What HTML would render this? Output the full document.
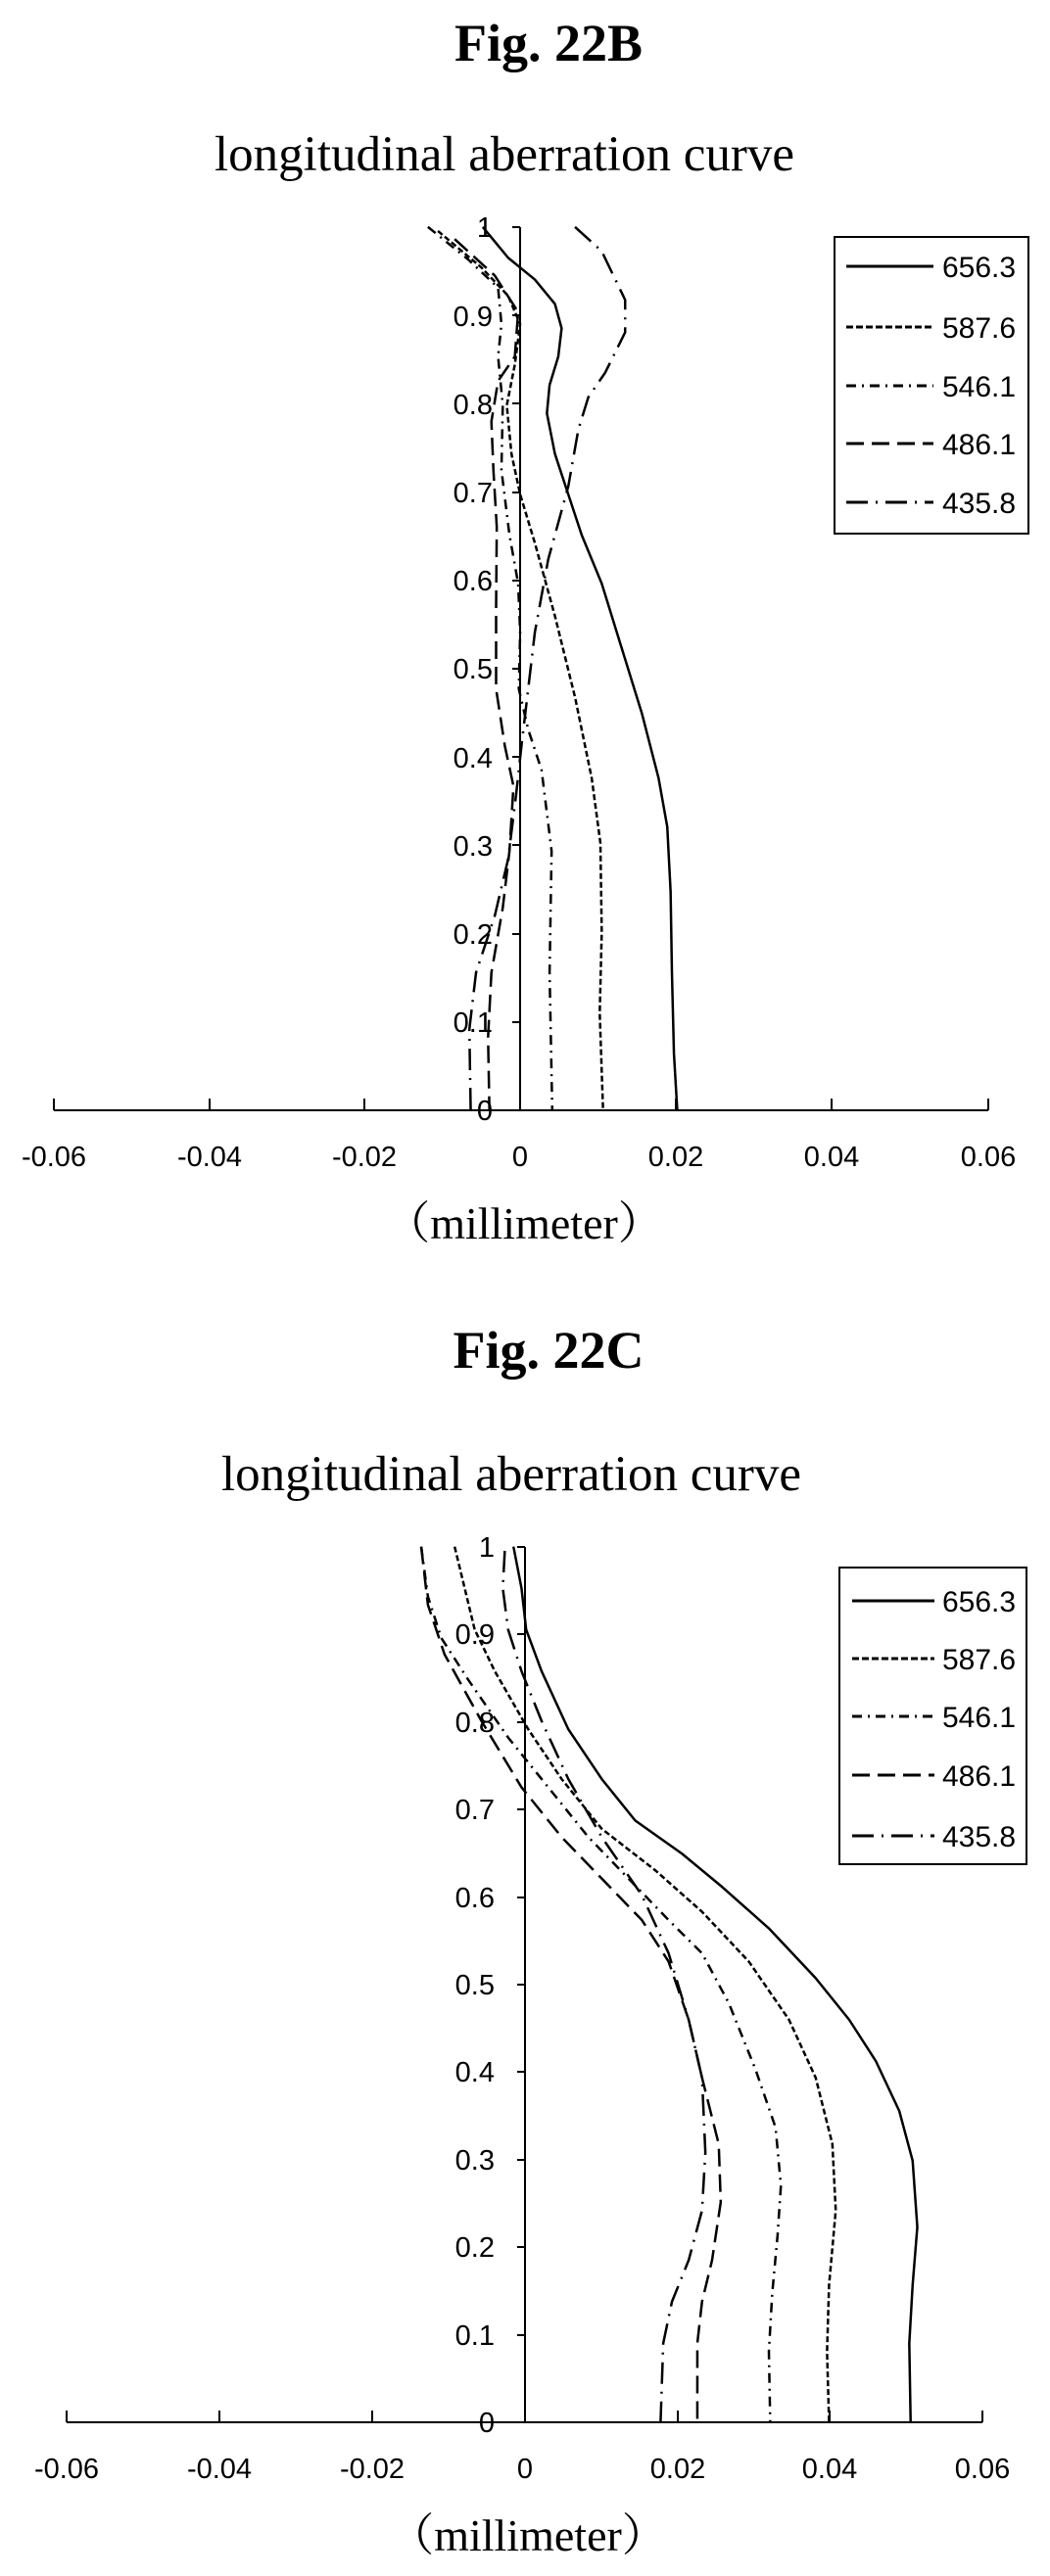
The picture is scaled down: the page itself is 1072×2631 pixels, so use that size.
<!DOCTYPE html>
<html><head><meta charset="utf-8"><style>
html,body{margin:0;padding:0;background:#fff;}
svg{display:block;}
.t{font-family:"Liberation Serif","Noto Serif CJK SC",serif;fill:#000;}
.s{font-family:"Liberation Sans","DejaVu Sans",sans-serif;fill:#000;}
.c polyline{vector-effect:non-scaling-stroke;}
</style></head><body>
<svg width="1072" height="2631" viewBox="0 0 1072 2631" xmlns="http://www.w3.org/2000/svg">
<rect width="1072" height="2631" fill="#fff"/>
<!-- Chart 1 -->
<text class="t" x="560" y="62" font-size="54" font-weight="bold" text-anchor="middle">Fig. 22B</text>
<text class="t" x="515" y="174" font-size="51" text-anchor="middle">longitudinal aberration curve</text>
<g stroke="#000" stroke-width="2" fill="none">
<line x1="55" y1="1134" x2="1009" y2="1134"/>
<line x1="531" y1="232" x2="531" y2="1134"/>
<path d="M55 1134v-12M214 1134v-12M372 1134v-12M690 1134v-12M849 1134v-12M1009 1134v-12"/>
<path d="M531 232h-8M531 322h-8M531 412h-8M531 503h-8M531 593h-8M531 683h-8M531 773h-8M531 863h-8M531 954h-8M531 1044h-8"/>
</g>
<g class="s" font-size="29" text-anchor="end">
<text x="503" y="242">1</text><text x="503" y="333">0.9</text><text x="503" y="423">0.8</text><text x="503" y="513">0.7</text><text x="503" y="603">0.6</text><text x="503" y="693">0.5</text><text x="503" y="784">0.4</text><text x="503" y="874">0.3</text><text x="503" y="964">0.2</text><text x="503" y="1054">0.1</text><text x="503" y="1144">0</text>
</g>
<g class="s" font-size="29" text-anchor="middle">
<text x="55" y="1191">-0.06</text><text x="214" y="1191">-0.04</text><text x="372" y="1191">-0.02</text><text x="531" y="1191">0</text><text x="690" y="1191">0.02</text><text x="849" y="1191">0.04</text><text x="1009" y="1191">0.06</text>
</g>
<text class="t" x="535" y="1265" font-size="46" text-anchor="middle">（millimeter）</text>
<g class="c" transform="scale(0.6826,0.8278)" fill="none" stroke="#000" stroke-width="2.5" stroke-linejoin="round">
<polyline points="722,280 760,318 800,345 830,375 840,405 835,440 822,475 818,510 830,560 850,610 870,660 900,720 930,800 960,880 985,960 998,1020 1003,1100 1005,1200 1008,1300 1013,1370"/>
<polyline stroke-dasharray="6 3" points="655,285 720,330 760,365 778,400 770,450 758,500 765,560 778,610 800,670 830,760 860,860 885,960 898,1040 900,1150 897,1250 902,1370"/>
<polyline stroke-dasharray="10 6 2 6" points="640,280 700,320 745,355 750,400 745,440 752,500 750,580 762,660 775,720 778,780 776,850 790,900 810,950 825,1050 822,1200 826,1370"/>
<polyline stroke-dasharray="18 8" points="680,295 740,340 775,385 770,440 745,470 735,520 738,580 743,650 742,750 742,850 755,920 768,970 762,1050 752,1120 735,1200 730,1280 732,1370"/>
<polyline stroke-dasharray="22 8 2 8" points="860,280 900,310 935,370 935,410 905,460 880,490 865,530 850,600 820,690 800,780 790,850 780,920 772,980 760,1060 740,1130 712,1200 702,1270 704,1370"/>
</g>
<rect x="852" y="242" width="198" height="303" fill="none" stroke="#000" stroke-width="2"/>
<g stroke="#000" stroke-width="3" fill="none">
<line x1="864" y1="272" x2="953" y2="272"/>
<line x1="864" y1="334" x2="953" y2="334" stroke-dasharray="7 3"/>
<line x1="864" y1="394" x2="953" y2="394" stroke-dasharray="10 6 2 6"/>
<line x1="864" y1="453" x2="953" y2="453" stroke-dasharray="18 8"/>
<line x1="864" y1="513" x2="953" y2="513" stroke-dasharray="22 8 2 8"/>
</g>
<g class="s" font-size="30">
<text x="962" y="283">656.3</text><text x="962" y="345">587.6</text><text x="962" y="405">546.1</text><text x="962" y="464">486.1</text><text x="962" y="524">435.8</text>
</g>

<!-- Chart 2 -->
<text class="t" x="560" y="1397" font-size="54" font-weight="bold" text-anchor="middle">Fig. 22C</text>
<text class="t" x="522" y="1522" font-size="51" text-anchor="middle">longitudinal aberration curve</text>
<g stroke="#000" stroke-width="2" fill="none">
<line x1="68" y1="2474" x2="1003" y2="2474"/>
<line x1="536" y1="1580" x2="536" y2="2474"/>
<path d="M68 2474v-12M224 2474v-12M380 2474v-12M692 2474v-12M847 2474v-12M1003 2474v-12"/>
<path d="M536 1580h-8M536 1669h-8M536 1759h-8M536 1848h-8M536 1938h-8M536 2027h-8M536 2116h-8M536 2206h-8M536 2295h-8M536 2385h-8"/>
</g>
<g class="s" font-size="29" text-anchor="end">
<text x="505" y="1590">1</text><text x="505" y="1679">0.9</text><text x="505" y="1769">0.8</text><text x="505" y="1858">0.7</text><text x="505" y="1948">0.6</text><text x="505" y="2037">0.5</text><text x="505" y="2126">0.4</text><text x="505" y="2216">0.3</text><text x="505" y="2305">0.2</text><text x="505" y="2395">0.1</text><text x="505" y="2484">0</text>
</g>
<g class="s" font-size="29" text-anchor="middle">
<text x="68" y="2531">-0.06</text><text x="224" y="2531">-0.04</text><text x="380" y="2531">-0.02</text><text x="536" y="2531">0</text><text x="692" y="2531">0.02</text><text x="847" y="2531">0.04</text><text x="1003" y="2531">0.06</text>
</g>
<text class="t" x="539" y="2605" font-size="46" text-anchor="middle">（millimeter）</text>
<g class="c" transform="translate(0,1300) scale(0.6826,0.8475)" fill="none" stroke="#000" stroke-width="2.5" stroke-linejoin="round">
<polyline points="768,330 780,380 787,430 810,480 850,550 900,610 950,660 1020,700 1080,740 1150,790 1220,850 1270,900 1310,950 1345,1010 1365,1070 1372,1150 1365,1220 1360,1290 1362,1385"/>
<polyline stroke-dasharray="6 3" points="680,330 695,380 710,430 740,480 790,550 840,610 900,670 980,720 1050,770 1120,830 1180,900 1220,970 1245,1050 1250,1130 1240,1220 1237,1300 1240,1385"/>
<polyline stroke-dasharray="10 6 2 6" points="630,330 640,390 660,440 700,490 760,560 820,620 880,680 940,730 1000,780 1050,820 1090,880 1130,960 1160,1030 1168,1100 1163,1160 1155,1230 1150,1300 1152,1385"/>
<polyline stroke-dasharray="18 8" points="630,330 640,400 665,460 720,540 780,620 840,680 900,730 960,780 1000,830 1030,900 1050,970 1075,1050 1078,1120 1065,1190 1050,1240 1043,1290 1043,1385"/>
<polyline stroke-dasharray="22 8 2 8" points="755,335 752,380 760,430 780,480 810,540 850,610 900,680 960,750 1000,820 1030,900 1050,970 1055,1060 1050,1130 1030,1190 1005,1240 992,1290 988,1385"/>
</g>
<rect x="857" y="1601" width="191" height="303" fill="none" stroke="#000" stroke-width="2"/>
<g stroke="#000" stroke-width="3" fill="none">
<line x1="870" y1="1635" x2="954" y2="1635"/>
<line x1="870" y1="1694" x2="954" y2="1694" stroke-dasharray="7 3"/>
<line x1="870" y1="1753" x2="954" y2="1753" stroke-dasharray="10 6 2 6"/>
<line x1="870" y1="1813" x2="954" y2="1813" stroke-dasharray="18 8"/>
<line x1="870" y1="1875" x2="954" y2="1875" stroke-dasharray="22 8 2 8"/>
</g>
<g class="s" font-size="30">
<text x="962" y="1646">656.3</text><text x="962" y="1705">587.6</text><text x="962" y="1764">546.1</text><text x="962" y="1824">486.1</text><text x="962" y="1886">435.8</text>
</g>
</svg>
</body></html>
